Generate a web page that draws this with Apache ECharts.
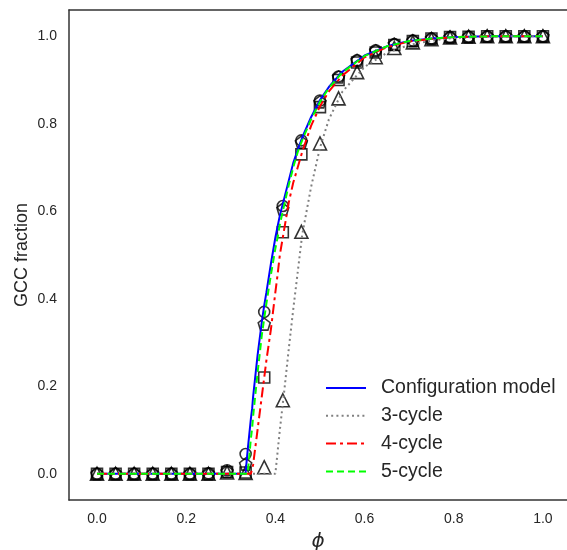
<!DOCTYPE html>
<html><head><meta charset="utf-8">
<script src="https://cdn.jsdelivr.net/npm/echarts@6/dist/echarts.min.js"></script>
<style>html,body{margin:0;padding:0;background:#fff}#c{width:567px;height:550px}</style>
</head><body><div id="c"></div>
<script>
// ---- data ----
const seriesNames = ['Configuration model', '3-cycle', '4-cycle', '5-cycle'];
const xTicks = [0, 0.2, 0.4, 0.6, 0.8, 1.0];
const yTicks = [0, 0.2, 0.4, 0.6, 0.8, 1.0];

// simulation markers (phi = k/24)
const phiPts = [0, 0.0417, 0.0833, 0.125, 0.1667, 0.2083, 0.25, 0.2917, 0.3333, 0.375, 0.4167, 0.4583, 0.5, 0.5417, 0.5833, 0.625, 0.6667, 0.7083, 0.75, 0.7917, 0.8333, 0.875, 0.9167, 0.9583, 1.0];
const cmPts  = [0, 0, 0, 0, 0, 0, 0.001, 0.008, 0.045, 0.37, 0.612, 0.762, 0.853, 0.908, 0.945, 0.968, 0.982, 0.99, 0.995, 0.998, 0.999, 1, 1, 1, 1];
const c3Pts  = [0, 0, 0, 0, 0, 0, 0, 0.003, 0.002, 0.015, 0.168, 0.553, 0.755, 0.858, 0.918, 0.952, 0.973, 0.986, 0.993, 0.997, 0.999, 1, 1, 1, 1];
const c4Pts  = [0, 0, 0, 0, 0, 0, 0, 0.004, 0.003, 0.22, 0.552, 0.73, 0.838, 0.9, 0.94, 0.963, 0.98, 0.989, 0.995, 0.998, 0.999, 1, 1, 1, 1];
const c5Pts  = [0, 0, 0, 0, 0, 0, 0, 0.005, 0.022, 0.342, 0.605, 0.758, 0.85, 0.907, 0.945, 0.967, 0.982, 0.99, 0.995, 0.998, 0.999, 1, 1, 1, 1];

// theory curves
const phiLine = [0, 0.333, 0.338, 0.345, 0.348, 0.35, 0.36, 0.37, 0.375, 0.38, 0.39, 0.40, 0.405, 0.41, 0.42, 0.43, 0.44, 0.45, 0.46, 0.48, 0.50, 0.52, 0.55, 0.60, 0.65, 0.70, 0.75, 0.80, 0.85, 0.90, 0.95, 1.0];
const cmLine = [0, 0, 0.055, 0.125, 0.15, 0.175, 0.27, 0.35, 0.385, 0.415, 0.48, 0.54, 0.565, 0.59, 0.63, 0.67, 0.71, 0.74, 0.768, 0.815, 0.854, 0.884, 0.919, 0.956, 0.977, 0.989, 0.995, 0.998, 0.9995, 0.9999, 1, 1];
const c3Line = [0, 0, 0, 0, 0, 0, 0, 0, 0, 0, 0, 0, 0.05, 0.10, 0.19, 0.285, 0.375, 0.46, 0.545, 0.655, 0.745, 0.81, 0.873, 0.93, 0.962, 0.98, 0.99, 0.996, 0.998, 0.9995, 1, 1];
const c4Line = [0, 0, 0, 0, 0, 0.02, 0.10, 0.18, 0.22, 0.26, 0.33, 0.415, 0.455, 0.50, 0.56, 0.62, 0.665, 0.70, 0.735, 0.795, 0.84, 0.874, 0.91, 0.952, 0.975, 0.988, 0.994, 0.998, 0.9995, 0.9999, 1, 1];
const c5Line = [0, 0, 0, 0.08, 0.105, 0.13, 0.23, 0.32, 0.355, 0.39, 0.455, 0.515, 0.54, 0.57, 0.615, 0.66, 0.70, 0.735, 0.762, 0.81, 0.85, 0.882, 0.917, 0.955, 0.977, 0.989, 0.995, 0.998, 0.9995, 0.9999, 1, 1];

// ---- build ----
function pairs(xs, ys) { return xs.map((x, i) => [x, ys[i]]); }
const FONT = 'Liberation Sans';
const TXT = '#262626';
const FRAME = '#333';
const pentagon = 'path://M0,-1 L0.951,-0.309 L0.588,0.809 L-0.588,0.809 L-0.951,-0.309 Z';

const lineDefs = [
  { y: cmLine, color: '#0000ff', type: 'solid' },
  { y: c3Line, color: '#808080', type: [2, 3.2] },
  { y: c4Line, color: '#ff0000', type: [10, 4, 3, 4] },
  { y: c5Line, color: '#00ff00', type: [7, 4] }
];
const ptDefs = [
  { y: cmPts, symbol: 'circle', size: 11 },
  { y: c3Pts, symbol: 'triangle', size: 13 },
  { y: c4Pts, symbol: 'rect', size: 11 },
  { y: c5Pts, symbol: pentagon, size: 12 }
];

const series = [];
ptDefs.forEach((d, i) => {
  series.push({
    name: 'pts' + i, type: 'scatter', data: pairs(phiPts, d.y),
    symbol: d.symbol, symbolSize: d.size, z: 2, silent: true,
    itemStyle: { color: 'rgba(0,0,0,0)', borderColor: '#000', borderWidth: 1.6 }
  });
});
lineDefs.forEach((d, i) => {
  series.push({
    name: seriesNames[i], type: 'line', data: pairs(phiLine, d.y),
    symbol: 'none', showSymbol: false, z: 5 + i, animation: false,
    lineStyle: { color: d.color, width: 2, type: d.type },
    itemStyle: { color: d.color }
  });
});

const chart = echarts.init(document.getElementById('c'), null, { renderer: 'canvas' });
chart.setOption({
  animation: false,
  backgroundColor: '#fff',
  grid: { left: 69, top: 10, right: 0, bottom: 50, show: false, containLabel: false, outerBoundsMode: 'none' },
  legend: {
    data: seriesNames, orient: 'vertical', left: 325, top: 378, padding: 0,
    itemWidth: 40, itemHeight: 12, itemGap: 7.8,
    itemStyle: { opacity: 0 },
    textStyle: { fontFamily: FONT, fontSize: 19.5, lineHeight: 20, color: TXT, padding: [0, 0, 0, 10] }
  },
  xAxis: [{
    type: 'value', min: -0.0628, max: 1.054, position: 'bottom',
    name: 'ϕ', nameLocation: 'middle', nameGap: 32, nameMoveOverlap: false,
    nameTextStyle: { fontFamily: 'DejaVu Sans', fontStyle: 'italic', fontSize: 20, color: TXT },
    axisLine: { show: true, onZero: false, lineStyle: { color: FRAME, width: 1.5 } },
    axisTick: { show: false }, splitLine: { show: false },
    axisLabel: { customValues: xTicks, formatter: v => v.toFixed(1), fontFamily: FONT, fontSize: 14, color: TXT, margin: 12 }
  }, {
    type: 'value', min: -0.0628, max: 1.054, position: 'top',
    axisLine: { show: true, onZero: false, lineStyle: { color: FRAME, width: 1.5 } },
    axisTick: { show: false }, splitLine: { show: false }, axisLabel: { show: false }
  }],
  yAxis: {
    type: 'value', min: -0.06, max: 1.06,
    name: 'GCC fraction', nameLocation: 'middle', nameGap: 38, nameMoveOverlap: false,
    nameTextStyle: { fontFamily: FONT, fontSize: 18, color: TXT },
    axisLine: { show: true, onZero: false, lineStyle: { color: FRAME, width: 1.5 } },
    axisTick: { show: false }, splitLine: { show: false },
    axisLabel: { customValues: yTicks, formatter: v => v.toFixed(1), fontFamily: FONT, fontSize: 14, color: TXT, margin: 12 }
  },
  series: series
});
</script>
</body></html>
